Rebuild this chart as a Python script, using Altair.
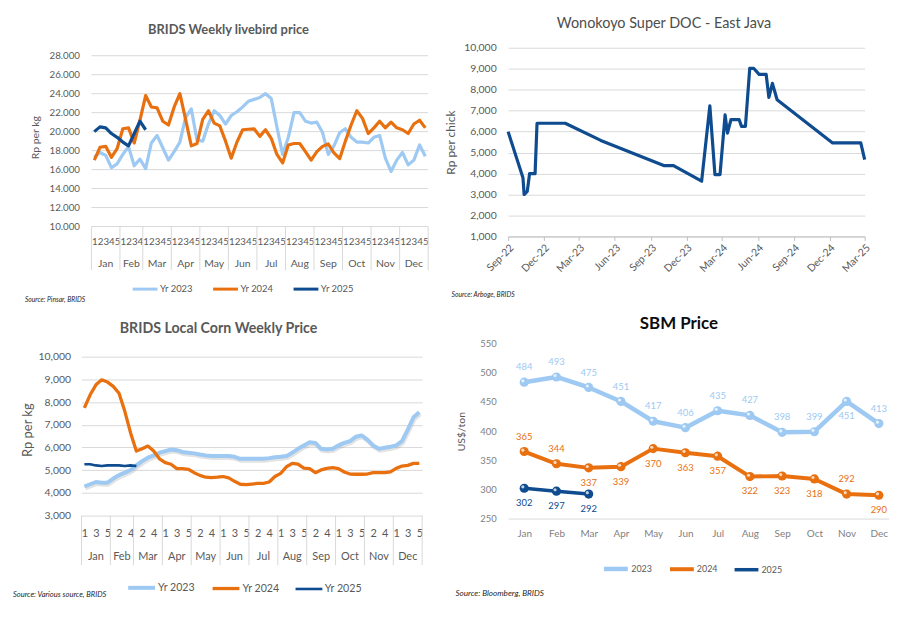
import json
import altair as alt
import pandas as pd

FONT = "Lato"
GRAY = "#595959"
AXGRAY = "#7f7f7f"
GRID = "#d9d9d9"
LIGHT = "#9dc9f2"
ORANGE = "#e9700f"
NAVY = "#0e4b8f"

months = ["Jan", "Feb", "Mar", "Apr", "May", "Jun", "Jul", "Aug", "Sep", "Oct", "Nov", "Dec"]
weeks_per_month = [5, 4, 5, 5, 5, 5, 5, 5, 5, 5, 5, 5]

# ---- BRIDS Weekly livebird price (Rp '000 per kg) ----
livebird_series = ["Yr 2023", "Yr 2024", "Yr 2025"]
livebird_2023 = [17.3, 17.8, 17.5, 16.2, 16.6, 17.6, 18.4, 16.4, 17.1, 16.1,
                 18.8, 19.6, 18.3, 17.0, 17.9, 18.9, 21.5, 22.4, 19.1, 19.0,
                 20.8, 22.2, 21.7, 20.8, 21.7, 22.1, 22.6, 23.2, 23.4, 23.6,
                 24.0, 23.5, 20.5, 17.6, 19.4, 22.0, 22.0, 21.1, 20.9, 21.0,
                 19.9, 17.6, 18.5, 19.9, 20.3, 19.4, 18.9, 18.9, 18.8, 19.4,
                 19.6, 17.2, 15.8, 17.0, 17.8, 16.5, 17.0, 18.6, 17.4]
livebird_2024 = [17.0, 18.35, 18.45, 17.3, 18.2, 20.3, 20.4, 18.8, 21.2, 23.8,
                 22.6, 22.5, 21.1, 20.7, 22.6, 24.0, 21.3, 18.5, 18.75, 21.3,
                 22.2, 20.9, 20.6, 19.0, 17.2, 18.9, 20.2, 20.25, 20.3, 19.5,
                 20.2, 19.3, 17.6, 16.7, 18.6, 18.75, 18.75, 17.9, 17.0, 17.9,
                 18.45, 18.7, 17.75, 17.15, 19.0, 20.7, 22.2, 21.4, 19.8, 20.4,
                 21.1, 20.4, 21.0, 20.4, 20.2, 19.8, 20.8, 21.2, 20.4]
livebird_2025 = [20.0, 20.5, 20.4, 19.8, 19.4, 18.9, 18.5, 19.8, 21.1, 20.2]
livebird_ticks = [10000, 12000, 14000, 16000, 18000, 20000, 22000, 24000, 26000, 28000]

# ---- Wonokoyo Super DOC - East Java (Rp per chick) ----
doc_dates = ["2022-09-01", "2022-10-09", "2022-10-12", "2022-10-20", "2022-10-26",
             "2022-11-09", "2022-11-14", "2023-01-25", "2023-04-26", "2023-10-04",
             "2023-10-29", "2024-01-09", "2024-01-30", "2024-02-12", "2024-02-25",
             "2024-03-09", "2024-03-15", "2024-03-24", "2024-04-14", "2024-04-20",
             "2024-04-30", "2024-05-11", "2024-05-21", "2024-06-04", "2024-06-22",
             "2024-06-29", "2024-07-08", "2024-07-20", "2024-12-09", "2025-02-19",
             "2025-03-01"]
doc_values = [6000, 3800, 3000, 3150, 4000, 4000, 6400, 6400, 5580, 4380,
              4380, 3640, 7230, 3950, 3950, 6800, 5930, 6570, 6570, 6250,
              6250, 9020, 9020, 8730, 8730, 7630, 8300, 7520, 5460, 5460,
              4670]
doc_tick_months = [(2022, 9), (2022, 12), (2023, 3), (2023, 6), (2023, 9), (2023, 12),
                   (2024, 3), (2024, 6), (2024, 9), (2024, 12), (2025, 3)]
doc_ticks = [1000, 2000, 3000, 4000, 5000, 6000, 7000, 8000, 9000, 10000]

# ---- BRIDS Local Corn Weekly Price (Rp per kg) ----
corn_2023 = [4280, 4380, 4480, 4450, 4450, 4630, 4780, 4890, 5010, 5210,
             5400, 5550, 5650, 5770, 5840, 5910, 5880, 5800, 5770, 5740,
             5690, 5650, 5620, 5620, 5620, 5620, 5590, 5500, 5500, 5500,
             5500, 5500, 5530, 5570, 5590, 5620, 5770, 5940, 6090, 6230,
             6200, 5940, 5910, 5940, 6090, 6200, 6280, 6470, 6530, 6350,
             6090, 5940, 5990, 6030, 6090, 6280, 6790, 7330, 7550]
corn_2024 = [7740, 8320, 8760, 8980, 8880, 8690, 8390, 7590, 6640, 5840,
             5940, 6060, 5840, 5500, 5330, 5260, 5070, 5070, 5040, 4890,
             4770, 4690, 4670, 4690, 4720, 4660, 4510, 4380, 4360, 4390,
             4420, 4420, 4480, 4720, 4860, 5150, 5300, 5270, 5090, 5070,
             4890, 5010, 5080, 5110, 5070, 4920, 4830, 4820, 4820, 4830,
             4890, 4890, 4890, 4920, 5080, 5180, 5210, 5300, 5300]
corn_2025 = [5260, 5260, 5210, 5180, 5210, 5210, 5210, 5180, 5210, 5180]
corn_ticks = [3000, 4000, 5000, 6000, 7000, 8000, 9000, 10000]

# ---- SBM Price (US$/ton) ----
sbm_series = ["2023", "2024", "2025"]
sbm_2023 = [484, 493, 475, 451, 417, 406, 435, 427, 398, 399, 451, 413]
sbm_2024 = [365, 344, 337, 339, 370, 363, 357, 322, 323, 318, 292, 290]
sbm_2025 = [302, 297, 292]
sbm_ticks = [250, 300, 350, 400, 450, 500, 550]
# label placement (style): above / below the marker
sbm_pos_2023 = ["above"] * 10 + ["below", "above"]
sbm_pos_2024 = ["above", "above"] + ["below"] * 8 + ["above", "below"]
sbm_pos_2025 = ["below", "below", "below"]

# ---------------- helpers ----------------
week_labels = []
month_starts = []
for n in weeks_per_month:
    month_starts.append(len(week_labels))
    week_labels.extend(str(w) for w in range(1, n + 1))
n_weeks = len(week_labels)
week_expr = json.dumps(week_labels) + "[datum.value]"
month_df = pd.DataFrame({"x": [s + (n - 1) / 2 for s, n in zip(month_starts, weeks_per_month)],
                         "label": months})
sep_df = pd.DataFrame({"x": [s - 0.5 for s in month_starts] + [n_weeks - 0.5]})


def long_df(names, series_list, scale=1.0, extra=None):
    rows = []
    for k, (name, vals) in enumerate(zip(names, series_list)):
        for i, v in enumerate(vals):
            r = {"x": i, "y": v * scale, "series": name}
            if extra is not None:
                r["pos"] = extra[k][i]
            rows.append(r)
    return pd.DataFrame(rows)


def text_layer(text, x, y, size, weight="normal", color=GRAY, style="normal", align="center"):
    return alt.Chart(pd.DataFrame({"t": [text]})).mark_text(
        fontSize=size, fontWeight=weight, color=color, fontStyle=style,
        align=align, baseline="middle"
    ).encode(text="t:N", x=alt.value(x), y=alt.value(y))


def stroke_legend(x, y, size, width, font, pad):
    return alt.Legend(orient="none", legendX=x, legendY=y, direction="horizontal",
                      title=None, symbolType="stroke", symbolSize=size,
                      symbolStrokeWidth=width, labelFontSize=font, labelColor=GRAY,
                      labelOffset=1, columnPadding=pad)


# ---------------- Panel 1: livebird ----------------
W1, H1 = 349, 180
x1s = alt.Scale(domain=[-2.24, n_weeks - 0.5], nice=False, zero=False)
y1s = alt.Scale(domain=[10000, 28840], nice=False, zero=False)
ax1x = alt.Axis(values=list(range(n_weeks)), labelExpr=week_expr, ticks=False, domain=False,
                grid=False, labelPadding=10, labelFontSize=9.8, labelColor=GRAY,
                labelOverlap=False, labelFlush=False, title=None)
ax1y = alt.Axis(values=livebird_ticks, labelExpr="replace(format(datum.value, ','), ',', '.')",
                grid=False, domain=False, ticks=False, labelPadding=2, labelFontSize=9.8,
                labelColor=GRAY, labelOverlap=False, title="Rp per kg", titleFontSize=10.5,
                titleColor=GRAY, titleFontWeight="normal", titlePadding=9)
X1 = lambda f: alt.X(f, scale=x1s, axis=ax1x)
Y1 = lambda f: alt.Y(f, scale=y1s, axis=ax1y)

lb_df = long_df(livebird_series, [livebird_2023, livebird_2024, livebird_2025], scale=1000)
grid1_df = pd.DataFrame({"y": livebird_ticks, "x": [-0.5] * len(livebird_ticks),
                         "x2": [n_weeks - 0.5] * len(livebird_ticks)})

grid1 = alt.Chart(grid1_df).mark_rule(color=GRID, strokeWidth=1).encode(
    x=X1("x:Q"), x2="x2:Q", y=Y1("y:Q"))
sep1 = alt.Chart(sep_df).mark_rule(color=GRID, strokeWidth=1).encode(
    x=X1("x:Q"), y=alt.value(H1), y2=alt.value(H1 + 44))
months1 = alt.Chart(month_df).mark_text(fontSize=10.5, color=GRAY, baseline="middle").encode(
    x=X1("x:Q"), y=alt.value(218), text="label:N")
lines1 = alt.Chart(lb_df).mark_line(strokeWidth=3.2, strokeJoin="round").encode(
    x=X1("x:Q"), y=Y1("y:Q"),
    color=alt.Color("series:N", scale=alt.Scale(domain=livebird_series, range=[LIGHT, ORANGE, NAVY]),
                    legend=stroke_legend(50, 229, 625, 3, 9.5, 13)))
p1 = alt.layer(
    grid1, sep1, lines1, months1,
    text_layer("BRIDS Weekly livebird price", 148, -18, 13, weight="bold"),
    text_layer("Source: Pinsar, BRIDS", -57, 254, 6.8, color="#262626", style="italic", align="left"),
).properties(width=W1, height=H1)

# ---------------- Panel 2: DOC ----------------
W2, H2 = 359, 190
doc_df = pd.DataFrame({"date": [d + "T00:00:00" for d in doc_dates], "y": doc_values})
doc_tick_dt = [alt.DateTime(year=y, month=m, date=1) for y, m in doc_tick_months]
doc_line = alt.Chart(doc_df).mark_line(color=NAVY, strokeWidth=3.2, strokeJoin="round").encode(
    x=alt.X("date:T", scale=alt.Scale(domain=[doc_tick_dt[0], doc_tick_dt[-1]]),
            axis=alt.Axis(values=doc_tick_dt, format="%b-%y", labelAngle=-45, labelFontSize=10.5,
                          labelColor=GRAY, labelOverlap=False, labelFlush=False, ticks=True,
                          tickSize=4, tickColor="#bfbfbf", domainColor="#bfbfbf", grid=False,
                          title=None, labelPadding=2)),
    y=alt.Y("y:Q", scale=alt.Scale(domain=[1000, 10000], nice=False, zero=False),
            axis=alt.Axis(values=doc_ticks, format=",.0f", grid=True, gridColor=GRID, domain=False,
                          ticks=False, labelPadding=12, labelFontSize=10.5, labelColor=GRAY,
                          labelOverlap=False, title="Rp per chick", titleFontSize=12,
                          titleColor=GRAY, titleFontWeight="normal", titlePadding=6)),
)
p2 = alt.layer(
    doc_line,
    text_layer("Wonokoyo Super DOC - East Java", 157, -24, 14.5, color="#4d4d4d"),
    text_layer("Source: Arboge, BRIDS", -57, 249, 6.8, color="#262626", style="italic", align="left"),
).properties(width=W2, height=H2)

# ---------------- Panel 3: corn ----------------
W3, H3 = 343, 173
x3s = alt.Scale(domain=[-0.5, n_weeks - 0.5], nice=False, zero=False)
y3s = alt.Scale(domain=[3000, 10569], nice=False, zero=False)
ax3x = alt.Axis(values=list(range(0, n_weeks, 2)), labelExpr=week_expr, ticks=False, domain=False,
                grid=False, labelPadding=12, labelFontSize=11, labelColor=GRAY,
                labelOverlap=False, labelFlush=False, title=None)
ax3y = alt.Axis(values=corn_ticks, format=",.0f", grid=True, gridColor=GRID, domain=False,
                ticks=False, labelPadding=11, labelFontSize=10.5, labelColor=GRAY,
                labelOverlap=False, title="Rp per kg", titleFontSize=13, titleColor=GRAY,
                titleFontWeight="normal", titlePadding=4)
X3 = lambda f: alt.X(f, scale=x3s, axis=ax3x)
Y3 = lambda f: alt.Y(f, scale=y3s, axis=ax3y)

corn_df = long_df(livebird_series, [corn_2023, corn_2024, corn_2025])
shadow3 = alt.Chart(corn_df).transform_filter(alt.datum.series == "Yr 2023").mark_line(
    color="#808080", opacity=0.22, strokeWidth=4, xOffset=1, yOffset=2, strokeJoin="round"
).encode(x=X3("x:Q"), y=Y3("y:Q"))
sep3 = alt.Chart(sep_df).mark_rule(color=GRID, strokeWidth=1).encode(
    x=X3("x:Q"), y=alt.value(H3), y2=alt.value(H3 + 50))
months3 = alt.Chart(month_df).mark_text(fontSize=11, color=GRAY, baseline="middle").encode(
    x=X3("x:Q"), y=alt.value(215), text="label:N")
lines3 = alt.Chart(corn_df).mark_line(strokeJoin="round").encode(
    x=X3("x:Q"), y=Y3("y:Q"),
    color=alt.Color("series:N", scale=alt.Scale(domain=livebird_series, range=[LIGHT, ORANGE, NAVY]),
                    legend=stroke_legend(45, 230, 729, 3.5, 10.7, 10)),
    strokeWidth=alt.StrokeWidth("series:N", scale=alt.Scale(domain=livebird_series, range=[4, 2.6, 2.6]),
                                legend=None),
)
p3 = alt.layer(
    shadow3, sep3, lines3, months3,
    text_layer("BRIDS Local Corn Weekly Price", 138, -15, 14.3, weight="bold"),
    text_layer("Source: Various source, BRIDS", -69, 253, 7.6, color="#262626", style="italic", align="left"),
).properties(width=W3, height=H3)

# ---------------- Panel 4: SBM ----------------
W4, H4 = 383, 176
x4s = alt.Scale(domain=[-0.5, 11.3], nice=False, zero=False)
y4s = alt.Scale(domain=[250, 550], nice=False, zero=False)
ax4x = alt.Axis(values=list(range(12)), labelExpr=json.dumps(months) + "[datum.value]", ticks=False,
                domain=True, domainColor=GRID, grid=False, labelPadding=10, labelFontSize=10,
                labelColor=AXGRAY, labelFlush=False, labelOverlap=False, title=None)
ax4y = alt.Axis(values=sbm_ticks, grid=False, domain=False, ticks=False, labelPadding=12,
                labelFontSize=9.5, labelColor=AXGRAY, labelOverlap=False, title="US$/ton",
                titleFontSize=10.5, titleColor=GRAY, titleFontWeight="normal", titlePadding=13)
X4 = lambda f: alt.X(f, scale=x4s, axis=ax4x)
Y4 = lambda f: alt.Y(f, scale=y4s, axis=ax4y)

sbm_df = long_df(sbm_series, [sbm_2023, sbm_2024, sbm_2025],
                 extra=[sbm_pos_2023, sbm_pos_2024, sbm_pos_2025])
sbm_colors = [LIGHT, ORANGE, NAVY]
sbm_scale = alt.Scale(domain=sbm_series, range=sbm_colors)
sbm_legend = stroke_legend(94, 212, 576, 3.5, 9, 10)

lines4 = alt.Chart(sbm_df).mark_line(strokeJoin="round").encode(
    x=X4("x:Q"), y=Y4("y:Q"),
    color=alt.Color("series:N", scale=sbm_scale, legend=sbm_legend),
    strokeWidth=alt.StrokeWidth("series:N", scale=alt.Scale(domain=sbm_series, range=[4.5, 3.5, 3]),
                                legend=None),
)
points4 = alt.Chart(sbm_df).mark_point(filled=True, size=85, opacity=1, strokeWidth=0).encode(
    x=X4("x:Q"), y=Y4("y:Q"), color=alt.Color("series:N", scale=sbm_scale, legend=sbm_legend))
shine4 = alt.Chart(sbm_df).mark_point(filled=True, size=10, color="white", opacity=0.75,
                                      xOffset=-1.4, yOffset=-1.4).encode(x=X4("x:Q"), y=Y4("y:Q"))
lab_above = alt.Chart(sbm_df).transform_filter(alt.datum.pos == "above").mark_text(
    dy=-15, fontSize=9.5, baseline="middle").encode(
    x=X4("x:Q"), y=Y4("y:Q"), text="y:Q",
    color=alt.Color("series:N", scale=sbm_scale, legend=sbm_legend))
lab_below = alt.Chart(sbm_df).transform_filter(alt.datum.pos == "below").mark_text(
    dy=15, fontSize=9.5, baseline="middle").encode(
    x=X4("x:Q"), y=Y4("y:Q"), text="y:Q",
    color=alt.Color("series:N", scale=sbm_scale, legend=sbm_legend))
p4 = alt.layer(
    lines4, points4, shine4, lab_above, lab_below,
    text_layer("SBM Price", 172, -20, 17, weight="bold", color="#0d0d0d"),
    text_layer("Source: Bloomberg, BRIDS", -53, 252, 8.2, color="#262626", style="italic", align="left"),
).properties(width=W4, height=H4)

chart = alt.concat(
    p1, p2, p3, p4, columns=2, bounds="flush",
    align={"row": "each", "column": "none"},
    spacing={"row": 108, "column": 80.5},
).resolve_scale(
    color="independent", strokeWidth="independent"
).properties(
    padding={"left": 5, "top": 6, "right": 2, "bottom": 2}, background="white"
).configure(font=FONT).configure_view(stroke=None)

chart.save("out.html", embed_options={"renderer": "svg", "actions": False})
